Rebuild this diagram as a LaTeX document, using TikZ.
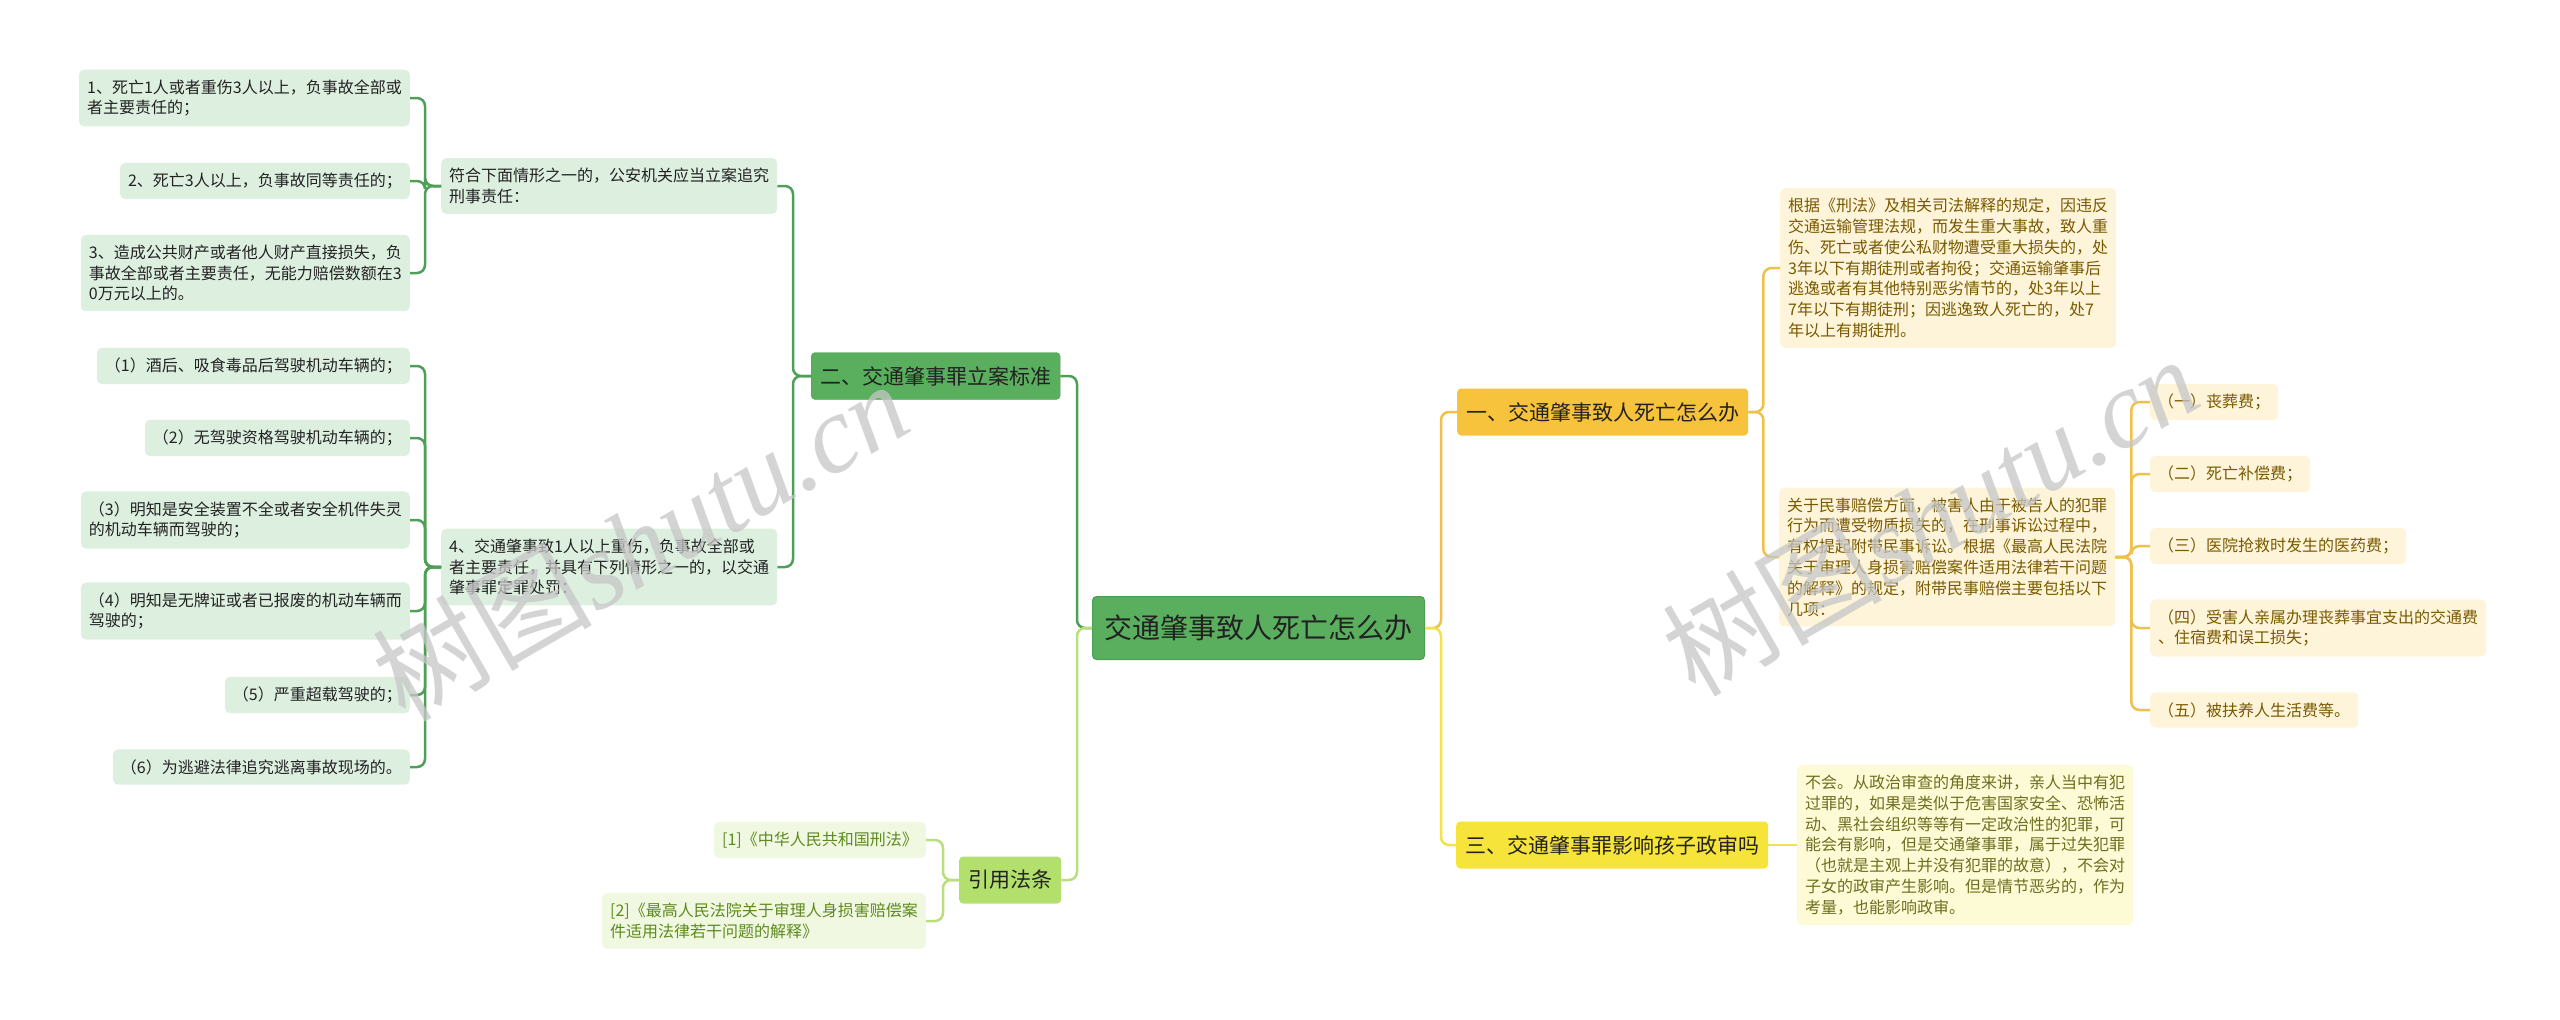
\documentclass[tikz,border=0pt]{standalone}
\usepackage{fontspec}
\setmainfont{Noto Sans CJK SC}
\newfontfamily\wmlatin{Liberation Serif}

\definecolor{rootgreen}{HTML}{5AAF5E}
\definecolor{rootedge}{HTML}{4C9E51}
\definecolor{leafgreen}{HTML}{DDF0E0}
\definecolor{greenline}{HTML}{4E9F57}
\definecolor{limefill}{HTML}{B3E06C}
\definecolor{limeleaf}{HTML}{F0F8E2}
\definecolor{limeline}{HTML}{B8DF7C}
\definecolor{limetext}{HTML}{5E8A1E}
\definecolor{goldfill}{HTML}{F8C33C}
\definecolor{goldleaf}{HTML}{FDF4DA}
\definecolor{goldline}{HTML}{F0C14A}
\definecolor{goldtext}{HTML}{7A5A00}
\definecolor{yelfill}{HTML}{F7E43A}
\definecolor{yelleaf}{HTML}{FDFBD6}
\definecolor{yelline}{HTML}{F2E34A}
\definecolor{yeltext}{HTML}{6E6E1E}
\definecolor{darktext}{HTML}{222222}

\begin{document}
\begin{tikzpicture}[x=1pt,y=-1pt,
  rootbox/.style={fill=rootgreen, draw=rootedge, line width=1pt, rounded corners=4pt,
    font=\fontsize{28}{34}\selectfont, text=darktext, inner xsep=12pt, minimum height=63pt},
  topic/.style={rounded corners=4pt, font=\fontsize{21}{26}\selectfont, text=darktext,
    inner xsep=9pt, minimum height=47pt},
  leaf/.style={rounded corners=5pt, font=\fontsize{16}{20.8}\selectfont,
    inner xsep=8pt, inner ysep=10pt, align=left},
  gleaf/.style={leaf, fill=leafgreen, text=darktext},
  lleaf/.style={leaf, fill=limeleaf, text=limetext},
  oleaf/.style={leaf, fill=goldleaf, text=goldtext},
  yleaf/.style={leaf, fill=yelleaf, text=yeltext},
  link/.style={line width=2.5pt, rounded corners=8pt},
  watermark/.style={rotate=30, text=gray!45, opacity=0.75, font=\fontsize{110}{120}\selectfont}
]
  \useasboundingbox (0,0) rectangle (2560,1020);

  \node[rootbox, anchor=west] (root) at (1092,628) {交通肇事致人死亡怎么办};

  %------ 二、交通肇事罪立案标准

  \node[topic, fill=rootgreen, draw=rootedge, anchor=west] (std) at (811,376) {二、交通肇事罪立案标准};

  \node[gleaf, anchor=west] (case) at (441,186) {符合下面情形之一的，公安机关应当立案追究\\刑事责任：};
  \node[gleaf, anchor=east] (c1) at (410,98) {1、死亡1人或者重伤3人以上，负事故全部或\\者主要责任的；};
  \node[gleaf, anchor=east] (c2) at (410,181) {2、死亡3人以上，负事故同等责任的；};
  \node[gleaf, anchor=east] (c3) at (410,273) {3、造成公共财产或者他人财产直接损失，负\\事故全部或者主要责任，无能力赔偿数额在3\\0万元以上的。};

  \node[gleaf, anchor=west] (hurt) at (441,567) {4、交通肇事致1人以上重伤，负事故全部或\\者主要责任，并具有下列情形之一的，以交通\\肇事罪定罪处罚：};
  \node[gleaf, anchor=east] (h1) at (410,366) {（1）酒后、吸食毒品后驾驶机动车辆的；};
  \node[gleaf, anchor=east] (h2) at (410,438) {（2）无驾驶资格驾驶机动车辆的；};
  \node[gleaf, anchor=east] (h3) at (410,520) {（3）明知是安全装置不全或者安全机件失灵\\的机动车辆而驾驶的；};
  \node[gleaf, anchor=east] (h4) at (410,611) {（4）明知是无牌证或者已报废的机动车辆而\\驾驶的；};
  \node[gleaf, anchor=east] (h5) at (410,695) {（5）严重超载驾驶的；};
  \node[gleaf, anchor=east] (h6) at (410,767) {（6）为逃避法律追究逃离事故现场的。};

  \draw[link, greenline] (root.west) -- ++(-15,0) |- (std.east);
  \foreach \n in {case,hurt}
    \draw[link, greenline] (std.west) -- ++(-18,0) |- (\n.east);
  \foreach \n in {c1,c2,c3}
    \draw[link, greenline] (case.west) -- ++(-16,0) |- (\n.east);
  \foreach \n in {h1,h2,h3,h4,h5,h6}
    \draw[link, greenline] (hurt.west) -- ++(-16,0) |- (\n.east);

  %------ 引用法条

  \node[topic, fill=limefill, anchor=west] (law) at (959,880) {引用法条};
  \node[lleaf, anchor=east] (law1) at (926,840) {[1]《中华人民共和国刑法》};
  \node[lleaf, anchor=east] (law2) at (926,921) {[2]《最高人民法院关于审理人身损害赔偿案\\件适用法律若干问题的解释》};

  \draw[link, limeline] (root.west) -- ++(-15,0) |- (law.east);
  \foreach \n in {law1,law2}
    \draw[link, limeline] (law.west) -- ++(-16,0) |- (\n.east);

  %------ 一、交通肇事致人死亡怎么办

  \node[topic, fill=goldfill, anchor=west] (death) at (1457,412) {一、交通肇事致人死亡怎么办};
  \node[oleaf, anchor=west] (penal) at (1780,268) {根据《刑法》及相关司法解释的规定，因违反\\交通运输管理法规，而发生重大事故，致人重\\伤、死亡或者使公私财物遭受重大损失的，处\\3年以下有期徒刑或者拘役；交通运输肇事后\\逃逸或者有其他特别恶劣情节的，处3年以上\\7年以下有期徒刑；因逃逸致人死亡的，处7\\年以上有期徒刑。};
  \node[oleaf, anchor=west] (civil) at (1779,557) {关于民事赔偿方面，被害人由于被告人的犯罪\\行为而遭受物质损失的，在刑事诉讼过程中，\\有权提起附带民事诉讼。根据《最高人民法院\\关于审理人身损害赔偿案件适用法律若干问题\\的解释》的规定，附带民事赔偿主要包括以下\\几项：};
  \node[oleaf, anchor=west] (fee1) at (2150,402) {（一）丧葬费；};
  \node[oleaf, anchor=west] (fee2) at (2150,474) {（二）死亡补偿费；};
  \node[oleaf, anchor=west] (fee3) at (2150,546) {（三）医院抢救时发生的医药费；};
  \node[oleaf, anchor=west] (fee4) at (2150,628) {（四）受害人亲属办理丧葬事宜支出的交通费\\、住宿费和误工损失；};
  \node[oleaf, anchor=west] (fee5) at (2150,710) {（五）被扶养人生活费等。};

  \draw[link, goldline] (root.east) -- ++(16,0) |- (death.west);
  \foreach \n in {penal,civil}
    \draw[link, goldline] (death.east) -- ++(15,0) |- (\n.west);
  \foreach \n in {fee1,fee2,fee3,fee4,fee5}
    \draw[link, goldline] (civil.east) -- ++(16,0) |- (\n.west);

  %------ 三、交通肇事罪影响孩子政审吗

  \node[topic, fill=yelfill, anchor=west] (exam) at (1456,845) {三、交通肇事罪影响孩子政审吗};
  \node[yleaf, anchor=west] (answer) at (1797,845) {不会。从政治审查的角度来讲，亲人当中有犯\\过罪的，如果是类似于危害国家安全、恐怖活\\动、黑社会组织等等有一定政治性的犯罪，可\\能会有影响，但是交通肇事罪，属于过失犯罪\\（也就是主观上并没有犯罪的故意），不会对\\子女的政审产生影响。但是情节恶劣的，作为\\考量，也能影响政审。};

  \draw[link, yelline] (root.east) -- ++(16,0) |- (exam.west);
  \draw[link, yelline] (exam.east) -- (answer.west);

  %------ watermark
  \node[watermark] (wm1) at (640,540) {树图{\wmlatin\itshape shutu.cn}};
  \node[watermark] (wm2) at (1930,515) {树图{\wmlatin\itshape shutu.cn}};

\end{tikzpicture}
\end{document}
